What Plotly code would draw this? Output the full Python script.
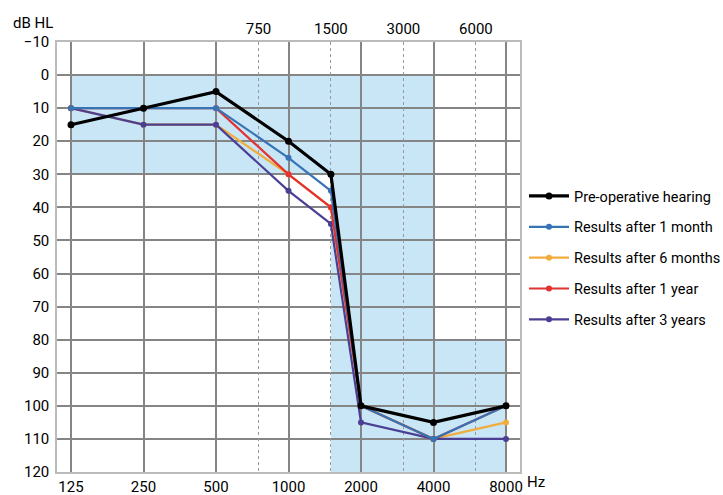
import math
import plotly.graph_objects as go

freqs = [125, 250, 500, 1000, 1500, 2000, 4000, 8000]
pre_op = [15, 10, 5, 20, 30, 100, 105, 100]
month1 = [10, 10, 10, 25, 35, 100, 110, 100]
month6 = [10, 15, 15, 30, 40, 100, 110, 105]
year1 = [10, 10, 10, 30, 40, 100, 110, 100]
year3 = [10, 15, 15, 35, 45, 105, 110, 110]

bottom_ticks = [125, 250, 500, 1000, 2000, 4000, 8000]
top_ticks = [750, 1500, 3000, 6000]
db_ticks = list(range(-10, 121, 10))

FONT = "Roboto, Liberation Sans, Arial, sans-serif"
FS = 15

series = [
    ("Results after 6 months", month6, "#f2ac3c", 2.2, 6, 3),
    ("Results after 3 years", year3, "#4b3f93", 2.2, 6, 5),
    ("Results after 1 year", year1, "#e23232", 2.2, 6, 4),
    ("Results after 1 month", month1, "#3674b6", 2.2, 6, 2),
    ("Pre-operative hearing", pre_op, "#000000", 3.2, 7, 1),
]

fig = go.Figure()
for name, vals, col, w, ms, rank in series:
    fig.add_trace(go.Scatter(
        x=freqs, y=vals, name=name, mode="lines+markers",
        line=dict(color=col, width=w), marker=dict(color=col, size=ms),
        legendrank=rank, legendgroup=name,
    ))

shade = "#c8e6f5"
fig.add_shape(type="rect", xref="x", yref="y", x0=125, x1=4000, y0=0, y1=30,
              fillcolor=shade, line_width=0, layer="below")
fig.add_shape(type="rect", xref="x", yref="y", x0=1500, x1=4000, y0=30, y1=120,
              fillcolor=shade, line_width=0, layer="below")
fig.add_shape(type="rect", xref="x", yref="y", x0=4000, x1=8000, y0=80, y1=120,
              fillcolor=shade, line_width=0, layer="below")

pad = 0.193 * math.log10(2)
xr = [math.log10(125) - pad, math.log10(8000) + pad]
grid = "#858585"

fig.update_layout(
    width=723, height=495,
    margin=dict(l=57, r=203, t=42, b=23, autoexpand=False),
    paper_bgcolor="white", plot_bgcolor="white",
    font=dict(family=FONT, size=FS, color="black"),
    showlegend=True,
    legend=dict(xref="container", yref="container",
                x=524 / 723, y=1 - 258 / 495, xanchor="left", yanchor="middle",
                font=dict(family=FONT, size=14.5, color="black"),
                traceorder="grouped", tracegroupgap=9, itemwidth=40,
                bgcolor="rgba(0,0,0,0)"),
    xaxis=dict(type="log", range=xr, tickvals=bottom_ticks,
               ticktext=[str(v) for v in bottom_ticks],
               showgrid=True, gridcolor=grid, gridwidth=1.5,
               showline=True, linecolor="#bbbbbb", linewidth=1.5, mirror=True,
               ticks="", zeroline=False, tickfont=dict(size=FS), automargin=False),
    xaxis2=dict(type="log", range=xr, overlaying="x", side="top",
                tickvals=top_ticks, ticktext=[str(v) for v in top_ticks],
                showgrid=True, gridcolor="#999999", gridwidth=1.2, griddash="dot",
                ticks="", zeroline=False, tickfont=dict(size=FS), automargin=False,
                ticklabelstandoff=4),
    yaxis=dict(range=[120, -10], tickvals=db_ticks,
               showgrid=True, gridcolor=grid, gridwidth=1.5,
               ticks="", zeroline=False, tickfont=dict(size=FS), automargin=False,
               ticklabelstandoff=3,
               showline=True, linecolor="#bbbbbb", linewidth=1.5, mirror=True),
)

# invisible trace to activate the top axis
fig.add_trace(go.Scatter(x=[1000], y=[None], xaxis="x2", showlegend=False,
                         hoverinfo="skip", mode="markers"))

fig.add_annotation(text="dB HL", xref="paper", yref="paper", x=0, y=1.0,
                   xanchor="right", yanchor="bottom", xshift=-2, yshift=8, showarrow=False,
                   font=dict(family=FONT, size=FS, color="black"))
fig.add_annotation(text="Hz", xref="paper", yref="paper", x=1.0, y=0.0,
                   xanchor="left", yanchor="top", xshift=5, yshift=1, showarrow=False,
                   font=dict(family=FONT, size=FS, color="black"))

fig.write_html("out.html", config={"displayModeBar": False},
               post_script="document.body.style.margin='0';")
